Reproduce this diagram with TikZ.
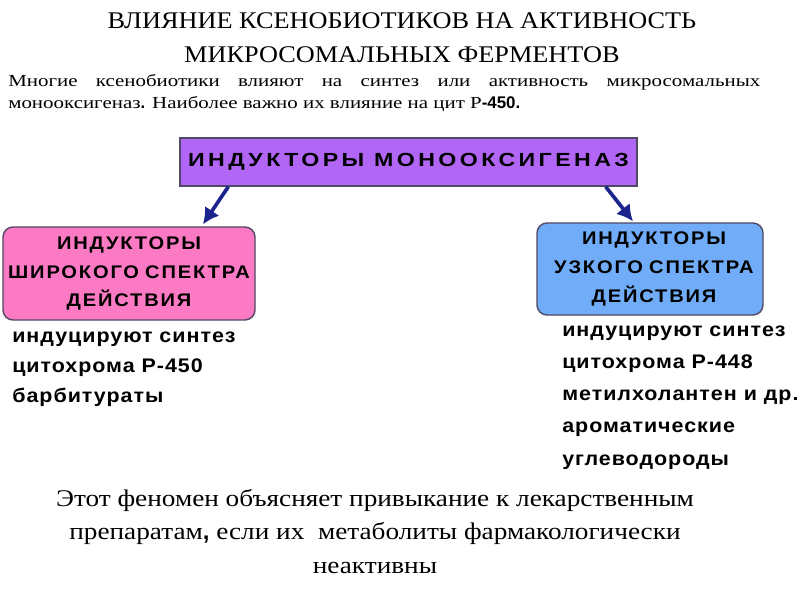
\documentclass[tikz,border=0pt]{standalone}
\usepackage{fontspec}
\setmainfont{Liberation Serif}
\newfontfamily\titlefont[FakeStretch=1.1]{Liberation Serif}
\newfontfamily\outfont[FakeStretch=1.14]{Liberation Serif}
\newfontfamily\leadfont[FakeStretch=1.24]{Liberation Serif}
\newfontfamily\topfont[FakeStretch=1.22,LetterSpace=18]{Liberation Sans}
\newfontfamily\boxfont[FakeStretch=1.1,LetterSpace=10]{Liberation Sans}
\newfontfamily\listfont[FakeStretch=1.09,LetterSpace=5]{Liberation Sans}
\newfontfamily\arialbold{Liberation Sans}
\usetikzlibrary{positioning,arrows.meta}

\definecolor{violetfill}{RGB}{178,102,246}
\definecolor{pinkfill}{RGB}{252,122,196}
\definecolor{bluefill}{RGB}{112,172,248}
\definecolor{frame}{RGB}{80,72,100}
\definecolor{navy}{RGB}{26,36,140}

\begin{document}
\begin{tikzpicture}[x=0.25mm,y=-0.25mm,
  headbox/.style={draw=frame,line width=1pt,inner sep=0pt,align=center,
    font=\boxfont\bfseries\fontsize{13}{20.5}\selectfont},
  kind/.style={headbox,rounded corners=2.5mm},
  facts/.style={anchor=base west,align=left,inner sep=0pt,
    font=\listfont\bfseries\fontsize{14}{21}\selectfont},
  link/.style={-{Latex[length=4mm,width=4.4mm]},navy,line width=2.6pt}]
\useasboundingbox (0,0) rectangle (800,600);
\fill[white] (0,0) rectangle (800,600);
% title and lead-in
\node (title) [anchor=base,align=center,inner sep=0pt,
  font=\titlefont\fontsize{17}{23.5}\selectfont] at (402,62)
  {ВЛИЯНИЕ КСЕНОБИОТИКОВ НА АКТИВНОСТЬ\\МИКРОСОМАЛЬНЫХ ФЕРМЕНТОВ};
\node (lead) [anchor=base west,align=left,inner sep=0pt,
  font=\leadfont\fontsize{12}{15}\selectfont] at (8,108)
  {\makebox[188mm][s]{Многие ксенобиотики влияют на синтез или активность микросомальных}\\
   монооксигеназ{\arialbold\bfseries.} Наиболее важно их влияние на цит Р{\arialbold\bfseries-450.}};
% boxes
\node (inducers) [headbox,fill=violetfill,minimum width=114.25mm,
  minimum height=12mm,font=\topfont\bfseries\fontsize{13.5}{15}\selectfont]
  at (408.5,162) {ИНДУКТОРЫ МОНООКСИГЕНАЗ};
\node (broad) [kind,fill=pinkfill,text width=63mm,minimum height=23.25mm]
  at (129,273.5) {ИНДУКТОРЫ\\ШИРОКОГО СПЕКТРА\\ДЕЙСТВИЯ};
\node (narrow) [kind,fill=bluefill,text width=56.5mm,minimum height=23mm]
  at (650,269) {\hspace*{2mm}ИНДУКТОРЫ\\\hspace*{2mm}УЗКОГО СПЕКТРА\\\hspace*{2mm}ДЕЙСТВИЯ};
\draw [link] ([shift={(49,0)}]inducers.south west) -- ([shift={(74,-2)}]broad.north);
\draw [link] ([shift={(-32,0)}]inducers.south east) -- ([shift={(-17,-1)}]narrow.north);
% what they do
\node (broadfacts) [facts] at (12,402)
  {индуцируют синтез\\цитохрома Р-450\\барбитураты};
\node (narrowfacts) [facts,font=\listfont\bfseries\fontsize{14}{22.8}\selectfont] at (562,465)
  {индуцируют синтез\\цитохрома Р-448\\метилхолантен и др.\\ароматические\\углеводороды};
\node (outcome) [anchor=base,align=center,inner sep=0pt,
  font=\outfont\fontsize{17}{23.5}\selectfont] at (375,573)
  {Этот феномен объясняет привыкание к лекарственным\\
   препаратам{\arialbold\bfseries,} если их\ \ метаболиты фармакологически\\неактивны};
\end{tikzpicture}
\end{document}
